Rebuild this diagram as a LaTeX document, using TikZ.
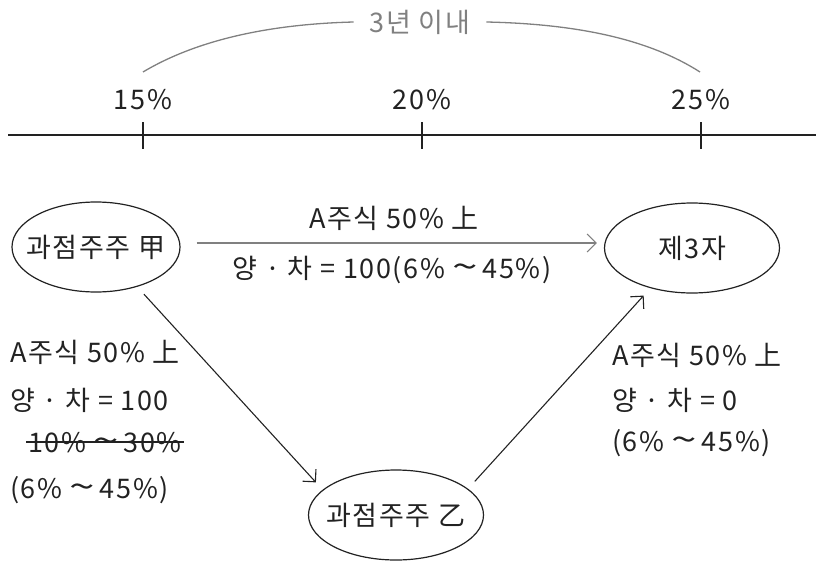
\documentclass[tikz,border=0pt]{standalone}
\usepackage{fontspec}
\setmainfont[LetterSpace=6]{Noto Sans CJK KR}
\usetikzlibrary{shapes.geometric,arrows.meta}
\definecolor{soft}{HTML}{808080}
\definecolor{ink}{HTML}{222222}
\newcommand\tld{\hspace{5pt}\scalebox{1.7}[1.2]{\textasciitilde}\hspace{5pt}}
\newcommand\pc{\%\hspace{2pt}}
\begin{document}
\begin{tikzpicture}[x=1pt,y=-1pt,
  party/.style={ellipse, draw=ink, line width=1.2pt, minimum width=172pt, minimum height=90pt, inner xsep=-22pt, inner ysep=0pt, font=\fontsize{27}{31}\selectfont, text=ink},
  lbl/.style={font=\fontsize{27}{31}\selectfont, inner sep=0pt, text=ink},
  arr/.style={-{Straight Barb[length=9pt,width=18pt]}, line width=1.1pt, draw=ink},
  tick/.style={line width=1.4pt, draw=ink}]
\useasboundingbox (0,0) rectangle (816,562);
% timeline
\coordinate (tl) at (8,135);
\coordinate (tr) at (816,135);
\draw[line width=2pt, ink] (tl) -- (tr);
\coordinate (t15) at (143,135);
\coordinate (t20) at (422,135);
\coordinate (t25) at (701,135);
\foreach \t in {t15,t20,t25} \draw[tick] ([yshift=13pt]\t) -- ([yshift=-14pt]\t);
\node[lbl] (l15) at (143,100) {15\%};
\node[lbl] (l20) at (422,100) {20\%};
\node[lbl] (l25) at (701,100) {25\%};
% arc
\node[lbl, text=soft, inner xsep=16pt] (span) at (420,22) {3년 이내};
\coordinate (a1) at (143,72);
\coordinate (a2) at (700,72);
\draw[soft, line width=1.3pt] (a1) .. controls (200,38) and (275,24) .. (span.west);
\draw[soft, line width=1.3pt] (span.east) .. controls (580,24) and (650,40) .. (a2);
% parties
\node[party, minimum width=168pt] (jia) at (96,247) {과점주주 甲};
\node[party, minimum width=175pt] (third) at (692,248) {제3자};
\node[party, minimum width=175pt] (yi) at (396,515) {과점주주 乙};
% connectors
\draw[arr, draw=soft, shorten <=16pt, shorten >=7pt] ([yshift=4pt]jia.east) -- ([yshift=5pt]third.west);
\draw[arr, shorten <=10pt, shorten >=10pt] (jia.-44) -- (yi.161);
\draw[arr, shorten <=10pt, shorten >=10pt] (yi.20) -- (third.224);
% top labels
\node[lbl] (m1) at (394,218) {A주식 50\% 上};
\node[lbl] (m2) at (392,270) {양 · 차 = 100(6\pc\tld 45\%)};
% left block
\node[lbl, anchor=west] (b1) at (10,352) {A주식 50\% 上};
\node[lbl, anchor=west] (b2) at (10,400) {양 · 차 = 100};
\node[lbl, anchor=west] (b3) at (28,443) {10\pc\tld 30\%};
\draw[ink, line width=1.2pt] ([xshift=-2pt,yshift=1pt]b3.west) -- ([xshift=2pt,yshift=1pt]b3.east);
\node[lbl, anchor=west] (b4) at (10,490) {(6\pc\tld 45\%)};
% right block
\node[lbl, anchor=west] (c1) at (612,355) {A주식 50\% 上};
\node[lbl, anchor=west] (c2) at (612,400) {양 · 차 = 0};
\node[lbl, anchor=west] (c3) at (612,443) {(6\pc\tld 45\%)};
\end{tikzpicture}
\end{document}
